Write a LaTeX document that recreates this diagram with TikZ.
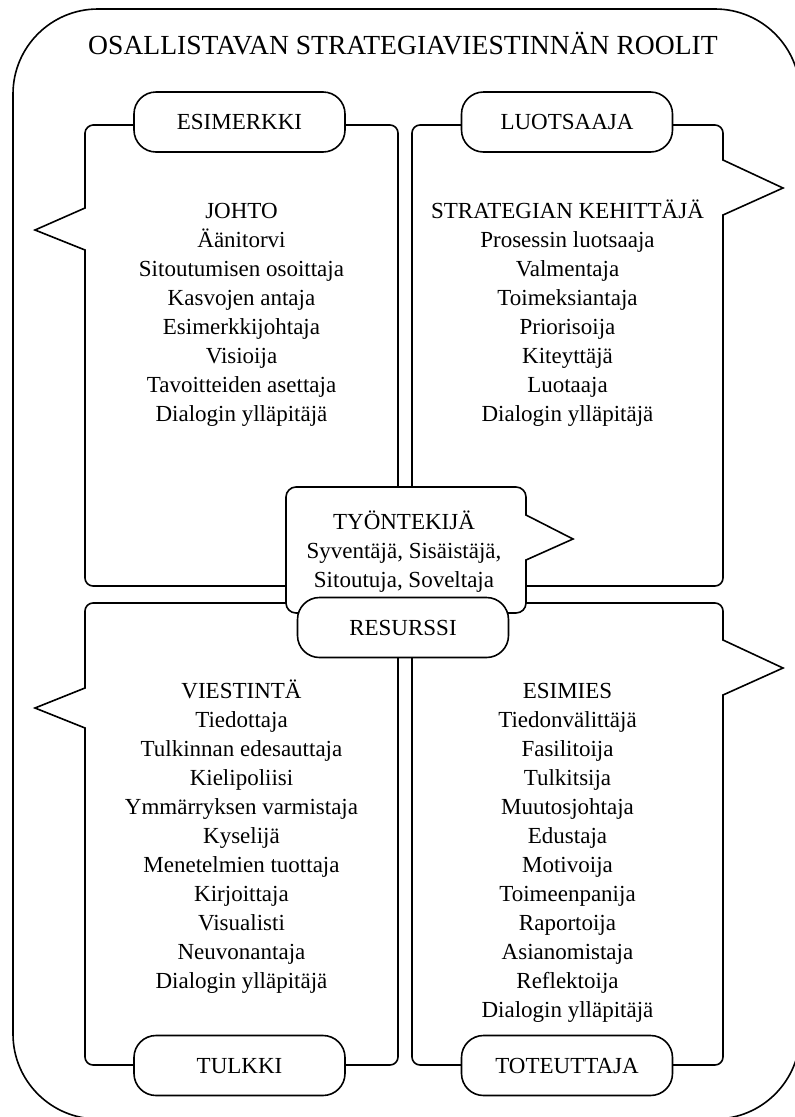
\documentclass[tikz,border=0pt]{standalone}
\usepackage{fontspec}
\setmainfont{Liberation Serif}
\newcommand{\tstrut}{\rule{0pt}{22pt}}
\newcommand{\bstrut}{\rule[-7pt]{0pt}{7pt}}
\begin{document}
\begin{tikzpicture}[x=1pt,y=-1pt,
  frame/.style={line width=1.6pt},
  bubble/.style={frame, draw, fill=white, line join=miter},
  tag/.style={frame, draw, fill=white, rectangle, rounded corners=22pt,
    minimum width=211pt, minimum height=60pt, inner sep=0pt,
    text height=15.2pt, text depth=0pt,
    font=\fontsize{23}{29}\selectfont},
  txt/.style={align=center, inner sep=0pt, font=\fontsize{23}{29}\selectfont},
]
\useasboundingbox (0,0) rectangle (795,1117);
\begin{scope}
  \clip (0,0) rectangle (795,1117);
  \draw[frame, rounded corners=85pt] (13,9) rectangle (800,1119);
\end{scope}

\node[anchor=base, inner sep=0pt, font=\fontsize{27.6}{32}\selectfont] (title) at (403,54)
  {OSALLISTAVAN STRATEGIAVIESTINNÄN ROOLIT};

% top-left bubble
\draw[bubble] (35,230) -- (85,208) -- (85,133) .. controls (85,128.58) and (89.42,125) .. (93,125)
  -- (390,125) .. controls (394.42,125) and (398,128.58) .. (398,133)
  -- (398,578) .. controls (398,582.42) and (394.42,586) .. (390,586)
  -- (93,586) .. controls (88.58,586) and (85,582.42) .. (85,578)
  -- (85,250) -- cycle;
% top-right bubble
\draw[bubble] (783,188) -- (723,215) -- (723,578) .. controls (723,582.42) and (719.42,586) .. (715,586)
  -- (420,586) .. controls (415.58,586) and (412,582.42) .. (412,578)
  -- (412,133) .. controls (412,128.58) and (415.58,125) .. (420,125)
  -- (715,125) .. controls (719.42,125) and (723,128.58) .. (723,133)
  -- (723,160) -- cycle;
% bottom-left bubble
\draw[bubble] (35,708) -- (85,688) -- (85,611) .. controls (85,606.58) and (88.58,603) .. (93,603)
  -- (390,603) .. controls (394.42,603) and (398,606.58) .. (398,611)
  -- (398,1057) .. controls (398,1061.42) and (394.42,1065) .. (390,1065)
  -- (93,1065) .. controls (88.58,1065) and (85,1061.42) .. (85,1057)
  -- (85,728) -- cycle;
% bottom-right bubble
\draw[bubble] (783,668) -- (723,695) -- (723,1057) .. controls (723,1061.42) and (719.42,1065) .. (715,1065)
  -- (420,1065) .. controls (415.58,1065) and (412,1061.42) .. (412,1057)
  -- (412,611) .. controls (412,606.58) and (415.58,603) .. (420,603)
  -- (715,603) .. controls (719.42,603) and (723,606.58) .. (723,611)
  -- (723,640) -- cycle;
% centre bubble
\draw[bubble] (573,539) -- (526,560) -- (526,603) .. controls (526,608.52) and (521.52,613) .. (516,613)
  -- (296,613) .. controls (290.48,613) and (286,608.52) .. (286,603)
  -- (286,497) .. controls (286,491.48) and (290.48,487) .. (296,487)
  -- (516,487) .. controls (521.52,487) and (526,491.48) .. (526,497)
  -- (526,515) -- cycle;

\node[txt] (johto) at (241.5,312) {\tstrut JOHTO\\Äänitorvi\\Sitoutumisen osoittaja\\Kasvojen antaja\\Esimerkkijohtaja\\Visioija\\Tavoitteiden asettaja\\Dialogin ylläpitäjä\bstrut};
\node[txt] (kehittaja) at (567.5,312) {\tstrut STRATEGIAN KEHITTÄJÄ\\Prosessin luotsaaja\\Valmentaja\\Toimeksiantaja\\Priorisoija\\Kiteyttäjä\\Luotaaja\\Dialogin ylläpitäjä\bstrut};
\node[txt] (tyontekija) at (404,550.5) {\tstrut TYÖNTEKIJÄ\\Syventäjä, Sisäistäjä,\\Sitoutuja, Soveltaja\bstrut};
\node[txt] (viestinta) at (241.5,835.5) {\tstrut VIESTINTÄ\\Tiedottaja\\Tulkinnan edesauttaja\\Kielipoliisi\\Ymmärryksen varmistaja\\Kyselijä\\Menetelmien tuottaja\\Kirjoittaja\\Visualisti\\Neuvonantaja\\Dialogin ylläpitäjä\bstrut};
\node[txt] (esimies) at (567.5,850) {\tstrut ESIMIES\\Tiedonvälittäjä\\Fasilitoija\\Tulkitsija\\Muutosjohtaja\\Edustaja\\Motivoija\\Toimeenpanija\\Raportoija\\Asianomistaja\\Reflektoija\\Dialogin ylläpitäjä\bstrut};

\node[tag] (esimerkki) at (239.5,122) {ESIMERKKI};
\node[tag] (luotsaaja) at (567,122) {LUOTSAAJA};
\node[tag] (resurssi) at (403,627.5) {RESURSSI};
\node[tag] (tulkki) at (239.5,1065.5) {TULKKI};
\node[tag] (toteuttaja) at (567,1065.5) {TOTEUTTAJA};
\end{tikzpicture}
\end{document}
